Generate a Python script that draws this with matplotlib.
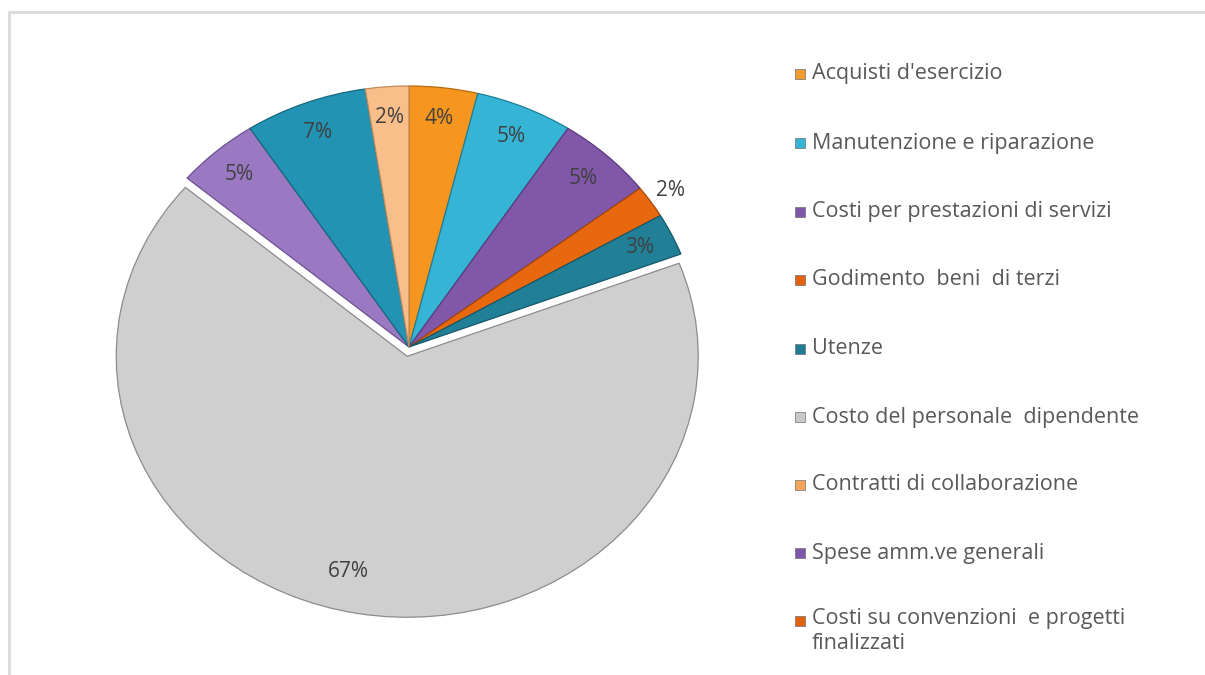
import matplotlib
matplotlib.use('Agg')
from matplotlib import pyplot as plt
from matplotlib.patches import Rectangle

# -- Dati --
voci_legenda = ["Acquisti d'esercizio", 'Manutenzione e riparazione', 'Costi per prestazioni di servizi',
                'Godimento  beni  di terzi', 'Utenze', 'Costo del personale  dipendente',
                'Contratti di collaborazione', 'Spese amm.ve generali',
                'Costi su convenzioni  e progetti\nfinalizzati']
colori_legenda = ['#F39A2E', '#33B5D6', '#7F57A8', '#E0620F', '#1F7C93', '#C8C8C8',
                  '#F6A55A', '#7F57A8', '#E0620F']

# fette nell'ordine in cui compaiono nel grafico (senso orario dall'alto)
valori = [3.8, 5.4, 5.4, 2.0, 2.6, 67.0, 4.6, 6.8, 2.4]
colori = ['#F7961E', '#35B4D6', '#8157A9', '#E8680F', '#217F98', '#CFCFCF',
          '#9B79C2', '#2393B4', '#F9BE8A']
bordi = ['#B86A10', '#1E7F99', '#5A3A7E', '#A84608', '#155868', '#8C8C8C',
         '#6E5290', '#17677F', '#C08A5C']
esplosione = [0, 0, 0, 0, 0, 0.036, 0, 0, 0]

plt.rcParams['font.family'] = ['Open Sans', 'DejaVu Sans']
W, H = 1205, 675
fig = plt.figure(figsize=(W / 100, H / 100), dpi=100)
fig.patch.set_facecolor('white')

# cornice grigio chiaro
fig.patches.append(Rectangle((9 / W, -0.05), 1.2, 1 - 12 / H + 0.05, transform=fig.transFigure,
                             fill=False, edgecolor='#D9D9D9', linewidth=2))

# centro (409,347) px, raggi 291 x 262 px
cx, cy, rx, ry = 409, 347, 291, 261
ax = fig.add_axes([(cx - 1.2 * rx) / W, 1 - (cy + 1.2 * ry) / H, 2.4 * rx / W, 2.4 * ry / H])

fette, testi, pcts = ax.pie(valori, colors=colori, startangle=90, counterclock=False,
                            explode=esplosione, autopct=lambda p: f'{p:.0f}%', pctdistance=0.88,
                            textprops={'fontsize': 15, 'color': '#404040'})
for f, b in zip(fette, bordi):
    f.set_edgecolor(b)
    f.set_linewidth(0.9)
ax.set_aspect('auto')
ax.set_xlim(-1.2, 1.2)
ax.set_ylim(-1.2, 1.2)

# etichetta del 2% (Godimento) fuori dalla fetta
x, y = pcts[3].get_position()
pcts[3].set_position((x * 1.08 / 0.88, y * 1.08 / 0.88))
# etichetta del 67% spostata verso sinistra come nell'originale
pcts[5].set_position((-0.21, -0.86))

# legenda costruita a mano
righe_y = [74, 143, 212, 280, 349, 417, 485, 553, 621]
for nome, col, yy in zip(voci_legenda, colori_legenda, righe_y):
    fig.patches.append(Rectangle((795 / W, 1 - (yy + 5) / H), 10 / W, 10 / H,
                                 transform=fig.transFigure, facecolor=col,
                                 edgecolor='#707070', linewidth=0.5))
    fig.text(812 / W, 1 - yy / H, nome, fontsize=15.5, color='#595959',
             va='center' if '\n' not in nome else 'top', linespacing=1.25)
# la voce su due righe parte dall'alto
fig.texts[-1].set_position((812 / W, 1 - (yy - 13) / H))

plt.savefig('out.png', dpi=100)
